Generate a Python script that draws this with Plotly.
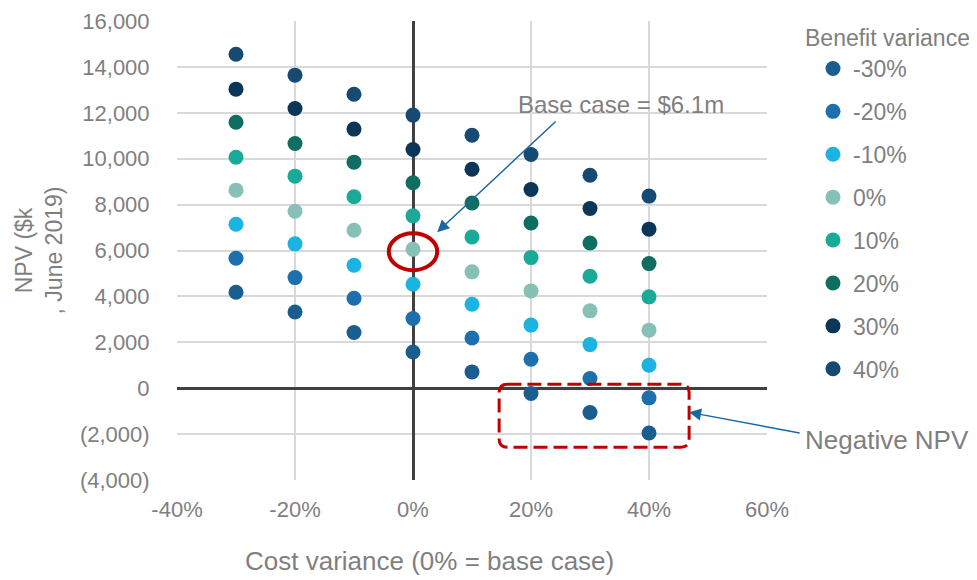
import plotly.graph_objects as go

# ---- data ----
cost_variance = [-30, -20, -10, 0, 10, 20, 30, 40]
benefit_labels = ["-30%", "-20%", "-10%", "0%", "10%", "20%", "30%", "40%"]
npv_bm30 = [4183, 3320, 2430, 1580, 710, -230, -1060, -1950]
npv_bm20 = [5665, 4820, 3920, 3040, 2190, 1260, 420, -420]
npv_bm10 = [7145, 6290, 5360, 4530, 3660, 2750, 1900, 1000]
npv_b0 = [8630, 7710, 6880, 6050, 5070, 4240, 3370, 2530]
npv_b10 = [10065, 9240, 8340, 7510, 6590, 5690, 4880, 3980]
npv_b20 = [11590, 10660, 9850, 8950, 8070, 7200, 6330, 5430]
npv_b30 = [13030, 12190, 11290, 10400, 9540, 8660, 7830, 6930]
npv_b40 = [14550, 13640, 12810, 11900, 11020, 10180, 9280, 8370]
series = [npv_bm30, npv_bm20, npv_bm10, npv_b0, npv_b10, npv_b20, npv_b30, npv_b40]
colors = ["#1a5e8f", "#1d70ad", "#1ab3e2", "#86c0b6", "#1aaa98", "#0f6d62", "#0c3658", "#164a72"]

x_tickvals = [-40, -20, 0, 20, 40, 60]
x_ticktext = ["-40%", "-20%", "0%", "20%", "40%", "60%"]
y_tickvals = [16000, 14000, 12000, 10000, 8000, 6000, 4000, 2000, 0, -2000, -4000]
y_ticktext = ["16,000", "14,000", "12,000", "10,000", "8,000", "6,000", "4,000", "2,000", "0", "(2,000)", "(4,000)"]

FONT = "Liberation Sans, Arial, sans-serif"
GREY = "#7f7f7f"
ARROW = "#1a68a0"
RED = "#c00000"

# plot area in screen pixels (page has an 8px body margin)
PL, PR, PT, PB = 177, 767, 21, 480
PW, PH = PR - PL, PB - PT
FIG_W, FIG_H = 969, 572


def px(x):
    return (x - PL) / PW


def py(y):
    return (PB - y) / PH


fig = go.Figure()
for i, (lab, vals, col) in enumerate(zip(benefit_labels, series, colors)):
    fig.add_trace(go.Scatter(
        x=cost_variance, y=vals, mode="markers", name=lab,
        legendgroup=f"g{i}",
        marker=dict(size=15, color=col),
    ))

# shapes
fig.add_shape(type="circle", xref="x", yref="y", x0=-4.1, x1=4.1, y0=5142, y1=6754,
              line=dict(color=RED, width=4))
x0, x1, y0, y1 = 14.6, 46.8, -2571, 174
rx, ry = 1.4, 350
path = (f"M {x0+rx},{y1} L {x1-rx},{y1} Q {x1},{y1} {x1},{y1-ry} "
        f"L {x1},{y0+ry} Q {x1},{y0} {x1-rx},{y0} L {x0+rx},{y0} "
        f"Q {x0},{y0} {x0},{y0+ry} L {x0},{y1-ry} Q {x0},{y1} {x0+rx},{y1} Z")
fig.add_shape(type="path", xref="x", yref="y", path=path,
              line=dict(color=RED, width=3, dash="14px,6px"))

annotations = [
    dict(text="Base case = $6.1m", xref="paper", yref="paper",
         x=px(621), y=py(104), xanchor="center", yanchor="middle", showarrow=False,
         font=dict(size=24, color=GREY, family=FONT)),
    dict(text="", xref="x", yref="y", x=4.1, y=6800, ax=120, ay=-112,
         showarrow=True, arrowhead=2, arrowsize=1.6, arrowwidth=1.5, arrowcolor=ARROW),
    dict(text="Negative NPV", xref="paper", yref="paper",
         x=px(803), y=py(440), xanchor="left", yanchor="middle", showarrow=False,
         font=dict(size=26, color=GREY, family=FONT)),
    dict(text="", xref="x", yref="y", x=46.8, y=-1050, ax=112, ay=21,
         showarrow=True, arrowhead=2, arrowsize=1.6, arrowwidth=1.5, arrowcolor=ARROW),
    dict(text="Cost variance (0% = base case)", xref="paper", yref="paper",
         x=px(429), y=py(561), xanchor="center", yanchor="middle", showarrow=False,
         font=dict(size=26, color=GREY, family=FONT)),
    dict(text="Benefit variance", xref="paper", yref="paper",
         x=px(803), y=py(38), xanchor="left", yanchor="middle", showarrow=False,
         font=dict(size=23, color=GREY, family=FONT)),
]

fig.update_layout(
    width=FIG_W, height=FIG_H,
    margin=dict(l=PL - 8, r=FIG_W - (PR - 8), t=PT - 8, b=FIG_H - (PB - 8), autoexpand=False),
    paper_bgcolor="white", plot_bgcolor="white",
    font=dict(family=FONT, size=22, color=GREY),
    showlegend=True,
    legend=dict(
        x=px(813), y=py(47), xanchor="left", yanchor="top",
        font=dict(size=23, color=GREY),
        tracegroupgap=10, itemwidth=30,
        bgcolor="rgba(0,0,0,0)",
    ),
    annotations=annotations,
    xaxis=dict(
        range=[-40, 60], tickvals=x_tickvals, ticktext=x_ticktext, automargin=False,
        showgrid=True, gridcolor="#d9d9d9", gridwidth=1.5,
        zeroline=True, zerolinecolor="#404040", zerolinewidth=2.5,
        ticks="outside", ticklen=10, tickcolor="rgba(0,0,0,0)",
        tickfont=dict(size=22, color=GREY), showline=False,
    ),
    yaxis=dict(
        range=[-4000, 16000], tickvals=y_tickvals, ticktext=y_ticktext, automargin=False,
        showgrid=True, gridcolor="#d9d9d9", gridwidth=1.5,
        zeroline=True, zerolinecolor="#404040", zerolinewidth=2.5,
        ticks="outside", ticklen=22, tickcolor="rgba(0,0,0,0)",
        tickfont=dict(size=22, color=GREY), showline=False,
        title=dict(text="NPV ($k<br>, June 2019)", font=dict(size=23, color=GREY), standoff=10),
    ),
)

fig.write_html("out.html")
